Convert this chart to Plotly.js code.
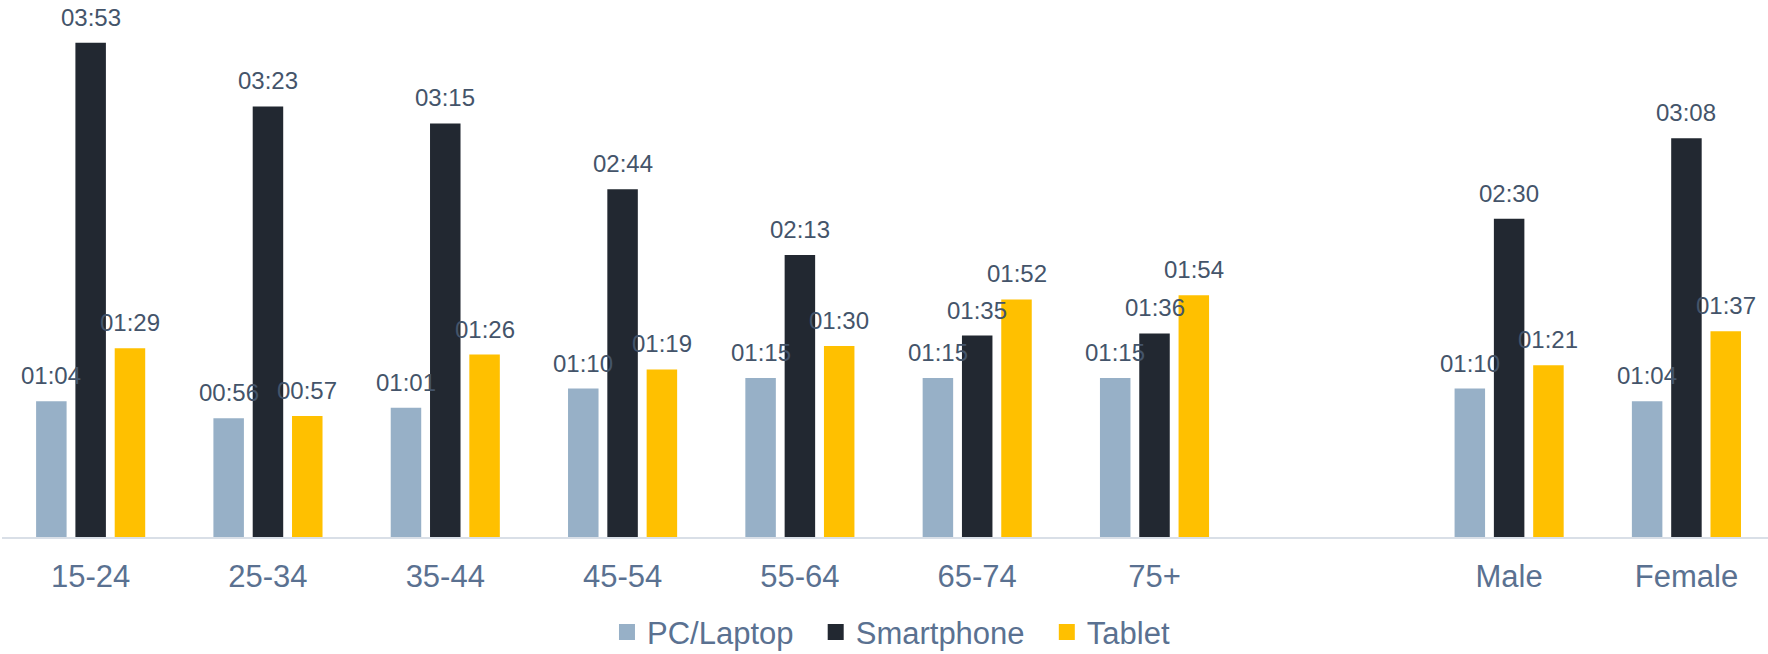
<!DOCTYPE html>
<html>
<head>
<meta charset="utf-8">
<script src="https://cdn.plot.ly/plotly-3.0.1.min.js"></script>
<style>
  html, body { margin: 0; padding: 0; background: #ffffff; }
  #chart { width: 1768px; height: 654px; }
</style>
</head>
<body>
<div id="chart"></div>
<script>
// Daily time spent per device, in minutes, by age group and gender
const categories = ['15-24', '25-34', '35-44', '45-54', '55-64', '65-74', '75+', ' ', 'Male', 'Female'];
const seriesNames = ['PC/Laptop', 'Smartphone', 'Tablet'];
const pcLaptop   = [64, 56, 61, 70, 75, 75, 75, null, 70, 64];
const smartphone = [233, 203, 195, 164, 133, 95, 96, null, 150, 188];
const tablet     = [89, 57, 86, 79, 90, 112, 114, null, 81, 97];
const seriesColors = ['#97b0c7', '#222831', '#ffc000'];

const W = 1768, H = 654;
const margin = { l: 2, r: 0, t: 0, b: 117, autoexpand: false };
const xRange = [-0.5, 9.46];
const yRange = [0, 253.2];
const bargap = 0.335;
const bargroupgap = 0.224;

const labelFont = 'Liberation Sans, Arial, Helvetica, sans-serif';
const valueColor = '#44546a';
const axisTextColor = '#5a7191';

// minutes -> "hh:mm"
function hhmm(m) {
  const h = Math.floor(m / 60), mm = m % 60;
  return String(h).padStart(2, '0') + ':' + String(mm).padStart(2, '0');
}

const seriesValues = [pcLaptop, smartphone, tablet];

const traces = [];
seriesValues.forEach((vals, s) => {
  traces.push({
    type: 'bar',
    name: seriesNames[s],
    x: categories,
    y: vals,
    marker: { color: seriesColors[s], line: { width: 0 } },
    showlegend: false,
    hoverinfo: 'skip'
  });
});
// legend entries with larger square swatches; trailing spaces widen the gap between entries
seriesValues.forEach((vals, s) => {
  traces.push({
    type: 'scatter',
    mode: 'markers',
    name: seriesNames[s] + '\u00a0\u00a0',
    x: [categories[0]],
    y: [null],
    marker: { symbol: 'square', size: 16, color: seriesColors[s] },
    hoverinfo: 'skip'
  });
});

// value labels placed above each bar of the group
const plotW = W - margin.l - margin.r;
const catPx = plotW / (xRange[1] - xRange[0]);
const slotPx = catPx * (1 - bargap) / seriesValues.length;
const annotations = [];
seriesValues.forEach((vals, s) => {
  vals.forEach((v, i) => {
    if (v === null) return;
    annotations.push({
      x: categories[i], y: v, xref: 'x', yref: 'y',
      xshift: (s - 1) * slotPx,
      yshift: 10,
      yanchor: 'bottom', xanchor: 'center',
      showarrow: false,
      text: hhmm(v),
      font: { family: labelFont, size: 24, color: valueColor }
    });
  });
});

const layout = {
  width: W, height: H,
  margin: margin,
  paper_bgcolor: '#ffffff',
  plot_bgcolor: '#ffffff',
  barmode: 'group',
  bargap: bargap,
  bargroupgap: bargroupgap,
  showlegend: true,
  legend: {
    orientation: 'h',
    x: 0.5082, xanchor: 'center',
    yref: 'container', y: 0.0745, yanchor: 'top',
    font: { family: labelFont, size: 31, color: axisTextColor },
    bgcolor: 'rgba(0,0,0,0)'
  },
  xaxis: {
    type: 'category',
    range: xRange,
    showgrid: false,
    zeroline: false,
    showline: true,
    linecolor: '#d9dfe7',
    linewidth: 2,
    ticks: '',
    ticklabelstandoff: 11,
    tickfont: { family: labelFont, size: 31, color: axisTextColor },
    fixedrange: true
  },
  yaxis: {
    range: yRange,
    visible: false,
    showgrid: false,
    zeroline: false,
    fixedrange: true
  },
  annotations: annotations
};

Plotly.newPlot('chart', traces, layout, { displayModeBar: false, staticPlot: true });
</script>
</body>
</html>
